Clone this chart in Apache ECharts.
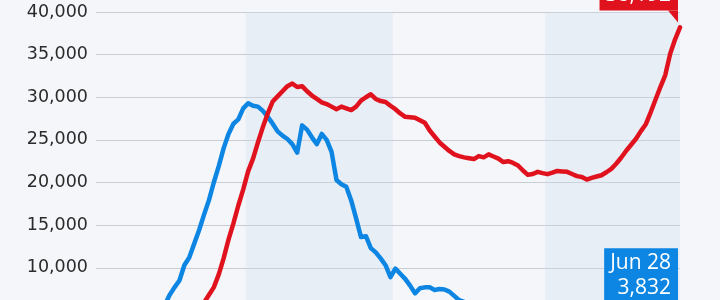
<!DOCTYPE html>
<html><head><meta charset="utf-8">
<script src="https://cdn.jsdelivr.net/npm/echarts@6/dist/echarts.min.js"></script>
<style>html,body{margin:0;padding:0;background:#f4f6fa}#c{width:720px;height:300px}</style>
</head><body><div id="c"></div>
<script>
// Category labels: days from Mar 1 to Jun 28
const monthNames = ['Mar', 'Apr', 'May', 'Jun'];
const monthLengths = [31, 30, 31, 28];
const days = [];
monthNames.forEach((m, i) => { for (let d = 1; d <= monthLengths[i]; d++) days.push(m + ' ' + d); });

// Shaded months (first and last day label)
const shadedMonths = [['Apr 1', 'Apr 30'], ['Jun 1', 'Jun 28']];

// Y axis ticks
const yTicks = [0, 5000, 10000, 15000, 20000, 25000, 30000, 35000, 40000];

// Blue series (7-day average of new cases)
const blueValues = [
  200, 250, 350, 450, 600, 800, 1000, 1300, 1700, 2100, 2600, 3200, 3900, 4700, 5600,
  6800, 7700, 8500, 10300, 11200, 12800, 14400, 16200, 17900, 20000,
  21900, 24000, 25700, 26900, 27400, 28700, 29300, 29000, 28900, 28400,
  27700, 26900, 26000, 25500, 25100, 24500, 23500, 26700, 26200, 25300,
  24500, 25700, 25000, 23600, 20300, 19800, 19500, 17900, 15800, 13600,
  13700, 12300, 11800, 11100, 10300, 8900, 9900, 9300, 8700, 7900,
  7000, 7600, 7700, 7700, 7400, 7500, 7450, 7200, 6700, 6200,
  6000, 5800, 5700, 5600, 5500, 5300, 5200, 5100, 5000, 4900,
  4800, 4700, 4700, 4600, 4500, 4400, 4400, 4300, 4200, 4200,
  4100, 4100, 4000, 4000, 3900, 3900, 3800, 3800, 3700, 3700,
  3700, 3600, 3600, 3600, 3500, 3500, 3600, 3600, 3600, 3700,
  3700, 3700, 3800, 3800, 3832
];

// Red series
const redValues = [
  10, 15, 20, 30, 40, 50, 70, 90, 120, 150, 200, 260, 350, 450, 600, 800, 1100, 1500, 2000, 2800, 3700, 4900,
  5900, 6800, 7700, 9200, 11100, 13300, 15200, 17300, 19200, 21300,
  22800, 24700, 26500, 28100, 29500, 30100, 30700, 31300, 31600, 31200,
  31300, 30700, 30200, 29800, 29400, 29200, 28900, 28600, 28900, 28700,
  28500, 28900, 29600, 30000, 30350, 29800, 29550, 29450, 29000, 28600,
  28100, 27700, 27650, 27600, 27300, 27000, 26100, 25400, 24700, 24200,
  23700, 23300, 23100, 22950, 22850, 22750, 23100, 22950, 23300, 23050,
  22800, 22400, 22500, 22300, 22000, 21400, 20900, 21000, 21250, 21100,
  20980, 21150, 21350, 21300, 21250, 21000, 20750, 20650, 20350, 20550,
  20700, 20850, 21200, 21600, 22200, 22900, 23700, 24400, 25100, 26000,
  26800, 28200, 29700, 31200, 32600, 35100, 36800, 38192
];

const RED = '#e0121d';
const BLUE = '#0d86e3';
const FONT = 'Open Sans';

function pairs(vals) { return vals.map((v, i) => [i, v]); }
function fmt(v) { return v.toLocaleString('en-US'); }

function endMarker(vals, color) {
  const last = vals.length - 1;
  return {
    symbol: 'path://M10,0 L10,11 L0,0 Z',
    symbolSize: [10, 12],
    symbolOffset: [-7, -11],
    symbolKeepAspect: false,
    silent: true,
    itemStyle: { color: color },
    label: {
      show: true,
      position: [10, 0],
      align: 'right',
      verticalAlign: 'bottom',
      formatter: days[last] + '\n' + fmt(vals[last]),
      color: '#fff',
      fontFamily: FONT,
      fontSize: 21,
      lineHeight: 25,
      backgroundColor: color,
      padding: [2, 7, 3, 6]
    },
    data: [{ coord: [last, vals[last]] }]
  };
}

const bandData = shadedMonths.map(([a, b]) => {
  const ia = days.indexOf(a), ib = days.indexOf(b);
  return [{ xAxis: ia - 0.5 }, { xAxis: Math.min(ib + 0.5, days.length - 1) }];
});

const chart = echarts.init(document.getElementById('c'), null, { renderer: 'canvas' });
chart.setOption({
  backgroundColor: '#f4f6fa',
  animation: false,
  grid: { left: 96, right: 40, top: 12, bottom: -53, containLabel: false, outerBoundsMode: 'none' },
  xAxis: {
    type: 'value', min: 0, max: days.length - 1, show: false
  },
  yAxis: {
    type: 'value', min: yTicks[0], max: yTicks[yTicks.length - 1], interval: yTicks[1] - yTicks[0],
    axisLine: { show: false }, axisTick: { show: false },
    axisLabel: { formatter: v => fmt(v), color: '#2b2b2b', fontSize: 17.5, fontFamily: 'DejaVu Sans', margin: 8 },
    splitLine: { lineStyle: { color: '#c9cdd3', width: 1 } }
  },
  series: [
    {
      type: 'line', name: 'blue', data: pairs(blueValues), showSymbol: false, symbol: 'none',
      lineStyle: { color: BLUE, width: 4.5, join: 'round', cap: 'round' }, itemStyle: { color: BLUE },
      markArea: { silent: true, itemStyle: { color: 'rgba(205,220,240,0.31)' }, data: bandData },
      markPoint: endMarker(blueValues, BLUE),
      z: 2
    },
    {
      type: 'line', name: 'red', data: pairs(redValues), showSymbol: false, symbol: 'none',
      lineStyle: { color: RED, width: 4.5, join: 'round', cap: 'round' }, itemStyle: { color: RED },
      markPoint: endMarker(redValues, RED),
      z: 3
    }
  ]
});
</script>
</body></html>
